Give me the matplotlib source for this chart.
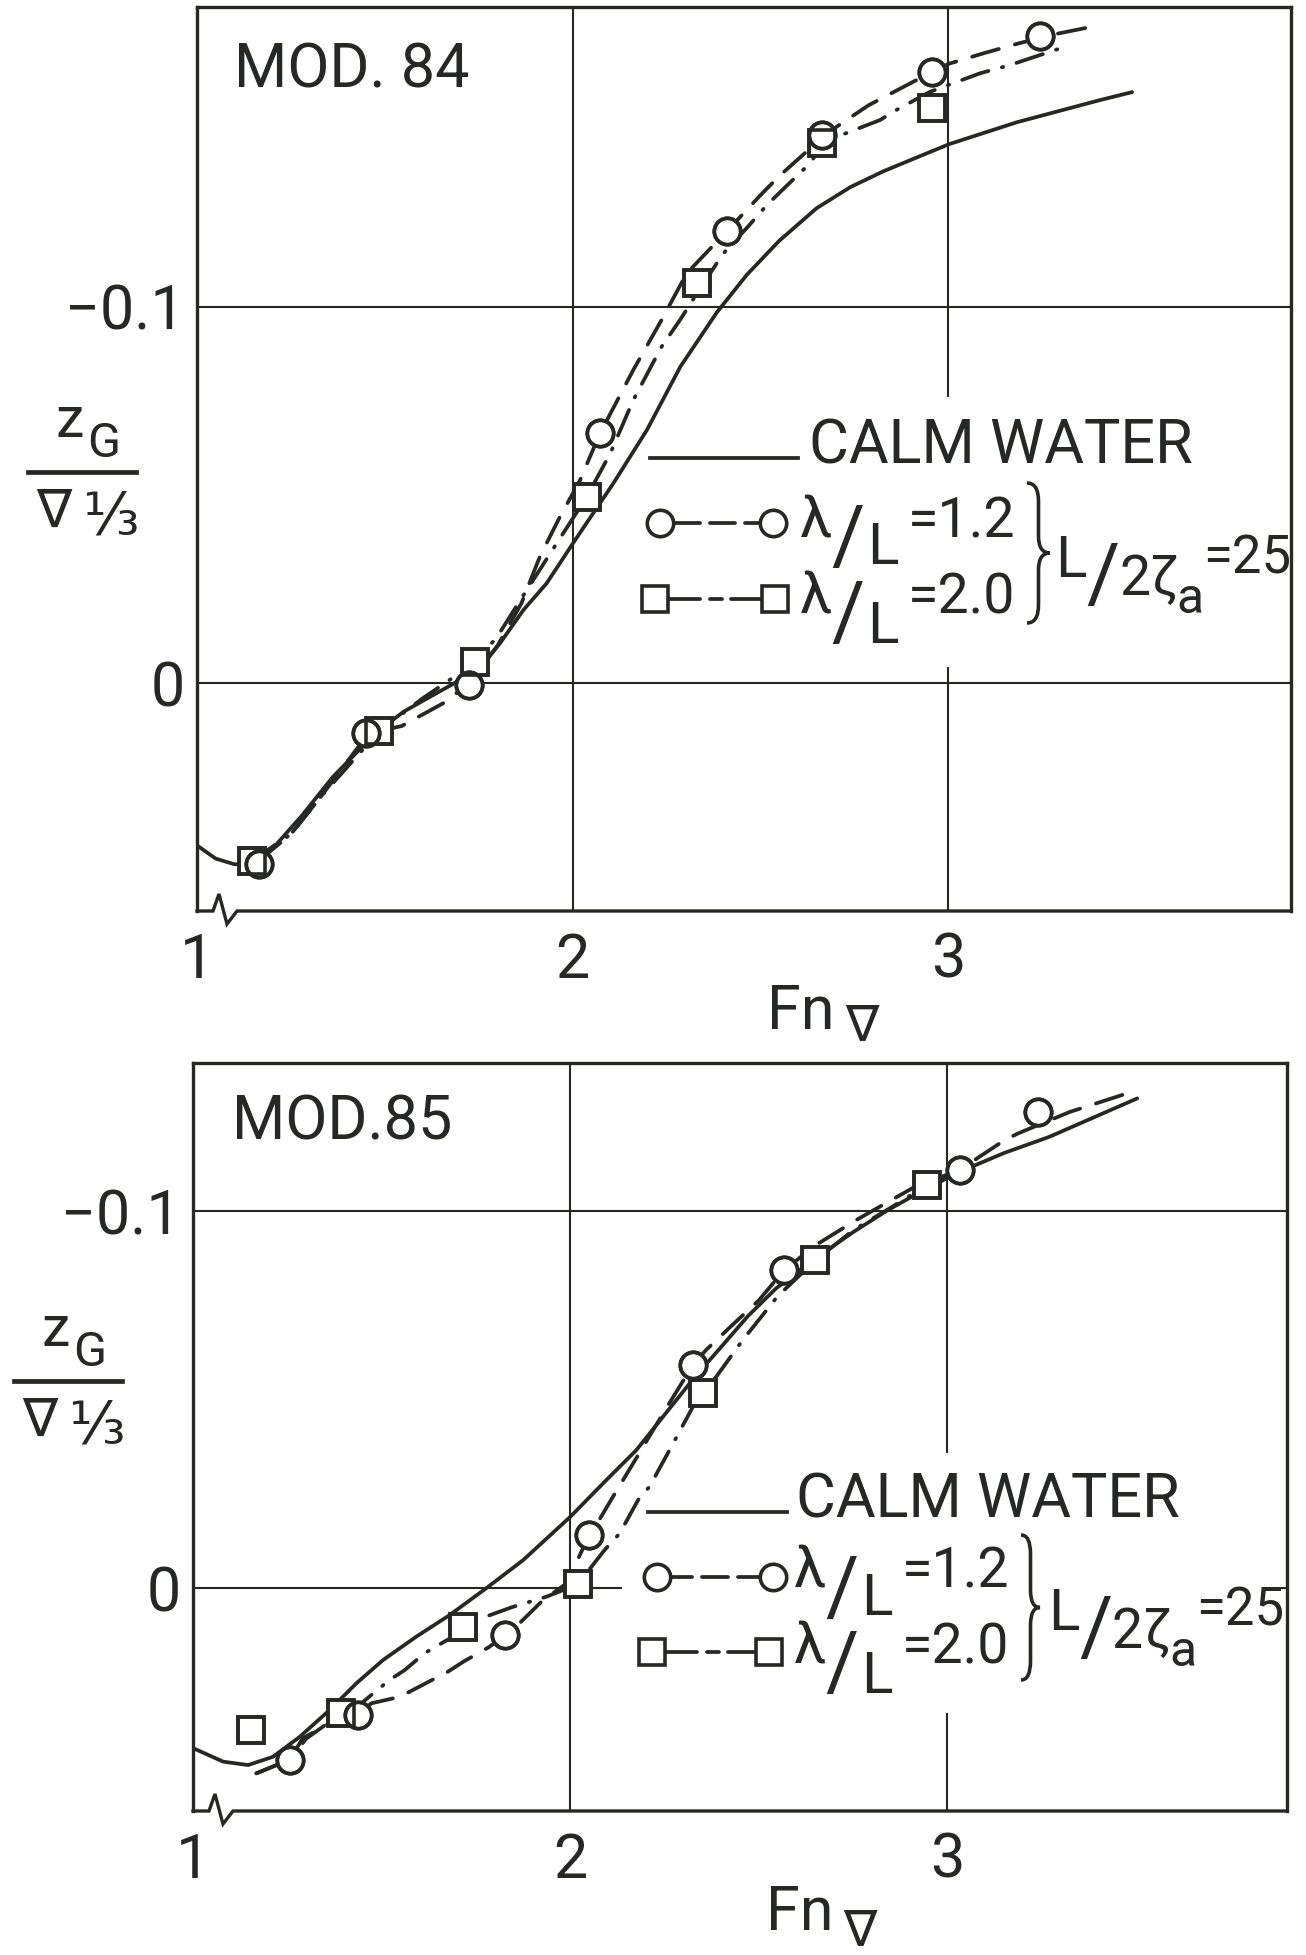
import matplotlib
matplotlib.use("Agg")
import matplotlib.pyplot as plt
from matplotlib.lines import Line2D
from matplotlib.patches import Rectangle, PathPatch
from matplotlib.path import Path

plt.rcParams['lines.scale_dashes'] = False

# ---------------- data ----------------
# MOD. 84 (upper panel)
m84_calm_x = [1.00, 1.05, 1.10, 1.146, 1.20, 1.28, 1.36, 1.475, 1.55, 1.63, 1.72, 1.771,
              1.807, 1.869, 1.931, 2.007, 2.109, 2.198, 2.287, 2.384, 2.464, 2.55, 2.65,
              2.74, 2.828, 2.92, 3.003, 3.183, 3.405, 3.49]
m84_calm_y = [0.043, 0.0465, 0.048, 0.0478, 0.044, 0.035, 0.025, 0.0132, 0.0075, 0.003,
              -0.002, -0.0063, -0.0107, -0.0195, -0.0266, -0.0381, -0.0532, -0.0673, -0.0841,
              -0.0985, -0.1085, -0.1175, -0.1262, -0.1318, -0.136, -0.1398, -0.1432, -0.149,
              -0.1549, -0.157]

m84_c12_x = [1.165, 1.25, 1.33, 1.457, 1.545, 1.66, 1.723, 1.80, 1.864, 1.913, 1.962, 2.02,
             2.073, 2.162, 2.237, 2.304, 2.41, 2.499, 2.548, 2.623, 2.663, 2.703, 2.788, 2.908,
             3.001, 3.094, 3.19, 3.29, 3.405]
m84_c12_y = [0.047, 0.040, 0.030, 0.0132, 0.0113, 0.005, 0.0, -0.010, -0.0213, -0.0337,
             -0.0434, -0.054, -0.0664, -0.0833, -0.0965, -0.1089, -0.120, -0.1295, -0.1345,
             -0.1412, -0.1445, -0.1478, -0.1535, -0.1598, -0.1645, -0.1673, -0.170, -0.1725,
             -0.1748]
m84_p12_x = [1.165, 1.45, 1.724, 2.073, 2.41, 2.663, 2.957, 3.245]
m84_p12_y = [0.0478, 0.0132, 0.0005, -0.0664, -0.120, -0.1456, -0.1624, -0.172]

m84_c20_x = [1.147, 1.25, 1.33, 1.485, 1.60, 1.741, 1.80, 1.86, 1.95, 2.038, 2.10, 2.162,
             2.237, 2.286, 2.331, 2.40, 2.469, 2.517, 2.632, 2.663, 2.70, 2.819, 2.863, 2.952,
             3.085, 3.165, 3.325]
m84_c20_y = [0.047, 0.040, 0.030, 0.0127, 0.004, -0.0056, -0.0125, -0.022, -0.036, -0.0496,
             -0.061, -0.0753, -0.0894, -0.0965, -0.1035, -0.114, -0.1215, -0.127, -0.1381,
             -0.1425, -0.1450, -0.1496, -0.1523, -0.1571, -0.162, -0.1642, -0.1695]
m84_p20_x = [1.147, 1.485, 1.741, 2.038, 2.331, 2.663, 2.957]
m84_p20_y = [0.047, 0.0127, -0.0056, -0.0496, -0.1063, -0.1434, -0.1527]

# MOD. 85 (lower panel)
m85_calm_x = [1.0, 1.08, 1.146, 1.212, 1.283, 1.362, 1.433, 1.504, 1.592, 1.68, 1.778, 1.875,
              2.0, 2.096, 2.175, 2.25, 2.33, 2.40, 2.471, 2.545, 2.65, 2.75, 2.841, 2.94,
              3.032, 3.15, 3.27, 3.503]
m85_calm_y = [0.0425, 0.0461, 0.047, 0.0448, 0.0395, 0.0324, 0.0253, 0.0191, 0.0129, 0.0072,
              0.0, -0.0074, -0.0189, -0.0287, -0.0366, -0.046, -0.056, -0.064, -0.0722, -0.0795,
              -0.0875, -0.0945, -0.1003, -0.1058, -0.1105, -0.1155, -0.1198, -0.130]

m85_c12_x = [1.168, 1.256, 1.291, 1.36, 1.437, 1.473, 1.548, 1.592, 1.676, 1.716, 1.786, 1.826,
             1.861, 1.928, 1.99, 2.05, 2.074, 2.113, 2.18, 2.25, 2.325, 2.36, 2.424, 2.50,
             2.567, 2.65, 2.758, 2.913, 3.032, 3.151, 3.187, 3.324, 3.503]
m85_c12_y = [0.0492, 0.0456, 0.0399, 0.036, 0.0337, 0.0306, 0.0289, 0.0266, 0.0222, 0.0196,
             0.0156, 0.0125, 0.0098, 0.0032, -0.0012, -0.014, -0.0176, -0.0242, -0.0353, -0.047,
             -0.0592, -0.0632, -0.0693, -0.0764, -0.0844, -0.091, -0.0977, -0.1065, -0.111,
             -0.1189, -0.1207, -0.1264, -0.1322]
m85_p12_x = [1.256, 1.437, 1.826, 2.05, 2.325, 2.567, 3.032, 3.241]
m85_p12_y = [0.0456, 0.0337, 0.0125, -0.014, -0.0592, -0.0844, -0.111, -0.1264]

m85_c20_x = [1.168, 1.256, 1.30, 1.393, 1.451, 1.521, 1.561, 1.614, 1.689, 1.716, 1.751, 1.848,
             1.937, 2.02, 2.091, 2.131, 2.18, 2.21, 2.263, 2.325, 2.352, 2.387, 2.457, 2.55,
             2.65, 2.75, 2.85, 2.946, 3.03]
m85_c20_y = [0.0492, 0.0456, 0.040, 0.0333, 0.0302, 0.0244, 0.0218, 0.0173, 0.0129, 0.0103,
             0.0085, 0.005, 0.0023, -0.001, -0.0101, -0.0145, -0.0234, -0.0269, -0.0366,
             -0.0481, -0.0517, -0.0561, -0.0658, -0.0775, -0.087, -0.095, -0.101, -0.107, -0.111]
m85_p20_x = [1.155, 1.393, 1.716, 2.02, 2.352, 2.65, 2.946]
m85_p20_y = [0.0377, 0.0333, 0.0103, -0.001, -0.0517, -0.087, -0.107]

xticks = [1, 2, 3]
xticklabels = ['1', '2', '3']
yticks = [-0.1, 0.0]
yticklabels = ['\u22120.1', '0']
panel_titles = ['MOD. 84', 'MOD.85']
legend_calm = 'CALM WATER'
legend_l12 = '=1.2'
legend_l20 = '=2.0'
legend_amp = '=25'

# ---------------- style ----------------
W, H = 1306, 1955
INK = '#262824'
FAM = ['Roboto', 'DejaVu Sans']
FS = 44
LW = 2.7
MS = 19
MEW = 2.6
DASH_C = (20, 12)
DASH_S = (20, 10, 1, 10)

fig = plt.figure(figsize=(W / 100, H / 100), dpi=100)
fig.patch.set_facecolor('white')


def fx(x):
    return x / W


def fy(y):
    return 1 - y / H


def T(x, y, s, size=FS, ha='left', va='baseline'):
    fig.text(fx(x), fy(y), s, fontsize=size, ha=ha, va=va, color=INK, family=FAM)


def fline(xs, ys, **kw):
    kw.setdefault('color', INK)
    kw.setdefault('lw', LW)
    fig.add_artist(Line2D([fx(v) for v in xs], [fy(v) for v in ys],
                          transform=fig.transFigure, **kw))


def fmark(x, y, m):
    fig.add_artist(Line2D([fx(x)], [fy(y)], transform=fig.transFigure, marker=m,
                          ms=MS, mfc='white', mec=INK, mew=MEW, ls='none', zorder=5))


def brace(x0, x1, yt, yb):
    xm = (x0 + x1) / 2
    ym = (yt + yb) / 2
    h = yb - yt
    pts = [(x0, yt), (xm, yt), (xm, yt + 0.13 * h), (xm, ym - 0.12 * h), (xm, ym), (x1, ym),
           (xm, ym), (xm, ym + 0.12 * h), (xm, yb - 0.13 * h), (xm, yb), (x0, yb)]
    codes = [Path.MOVETO, Path.CURVE3, Path.CURVE3, Path.LINETO, Path.CURVE3, Path.CURVE3,
             Path.CURVE3, Path.CURVE3, Path.LINETO, Path.CURVE3, Path.CURVE3]
    p = Path([(fx(a), fy(b)) for a, b in pts], codes)
    fig.add_artist(PathPatch(p, fill=False, edgecolor=INK, lw=2.6,
                             transform=fig.transFigure))


def make_axes(l, r, t, b, xmax, ybot, ytop):
    ax = fig.add_axes([fx(l), fy(b), (r - l) / W, (b - t) / H])
    ax.set_xlim(1, xmax)
    ax.set_ylim(ybot, ytop)
    ax.set_xticks(xticks)
    ax.set_xticklabels(xticklabels)
    ax.set_yticks(yticks)
    ax.set_yticklabels(yticklabels)
    for lab in ax.get_xticklabels() + ax.get_yticklabels():
        lab.set_fontsize(FS)
        lab.set_family(FAM)
        lab.set_color(INK)
    ax.tick_params(axis='both', length=0)
    ax.tick_params(axis='x', pad=15)
    ax.tick_params(axis='y', pad=9)
    ax.set_axisbelow(True)
    ax.grid(True, color=INK, lw=1.5)
    for s in ['left', 'top', 'right']:
        ax.spines[s].set_linewidth(2.4)
        ax.spines[s].set_color(INK)
    ax.spines['bottom'].set_visible(False)
    # axis break on the bottom edge
    fline([l, l + 16, l + 22, l + 30, l + 40, r], [b, b, b - 17, b + 13, b, b], lw=2.4,
          solid_joinstyle='miter')
    return ax


def draw_series(ax, cx, cy, c12x, c12y, p12x, p12y, c20x, c20y, p20x, p20y):
    ax.plot(cx, cy, color=INK, lw=LW, solid_capstyle='round', solid_joinstyle='round',
            zorder=3)
    ax.plot(c12x, c12y, color=INK, lw=LW, dashes=DASH_C, dash_capstyle='round', zorder=3)
    ax.plot(c20x, c20y, color=INK, lw=LW, dashes=DASH_S, dash_capstyle='round', zorder=3)
    ax.plot(p20x, p20y, 's', ms=MS, mfc='white', mec=INK, mew=MEW, ls='none', zorder=4)
    ax.plot(p12x, p12y, 'o', ms=MS, mfc='white', mec=INK, mew=MEW, ls='none', zorder=4)
    ax.plot(p20x, p20y, 's', ms=MS, mfc='none', mec=INK, mew=MEW, ls='none', zorder=5)
    ax.plot(p12x, p12y, 'o', ms=MS, mfc='none', mec=INK, mew=MEW, ls='none', zorder=5)


def lam_row(tx, tb, val, ldrop):
    T(tx, tb, '\u03bb', FS - 2)
    T(tx + 31, tb + 26, '/', FS + 14)
    T(tx + 67, tb + ldrop, 'L', FS - 2)
    T(tx + 108, tb, val, FS - 4)


def legend_block(ax, box, calm_line, calm_txt, row2, row3, br, amp):
    # white backing that interrupts the grid lines
    bx0, by0, bx1, by1 = box
    ax.add_patch(Rectangle((fx(bx0), fy(by1)), (bx1 - bx0) / W, (by1 - by0) / H,
                           transform=fig.transFigure, facecolor='white', edgecolor='none',
                           zorder=1))
    # calm water
    fline([calm_line[0], calm_line[1]], [calm_line[2], calm_line[2]], lw=2.7)
    T(calm_txt[0], calm_txt[1], legend_calm)
    # lambda/L = 1.2 row
    (m1, m2, my, segs, tx, tb, val) = row2
    for a, b_ in segs:
        fline([a, b_], [my, my], lw=2.7, solid_capstyle='round')
    fmark(m1, my, 'o')
    fmark(m2, my, 'o')
    lam_row(tx, tb, val, 27)
    # lambda/L = 2.0 row
    (m1, m2, my, segs, tx, tb, val) = row3
    for a, b_ in segs:
        fline([a, b_], [my, my], lw=2.7, solid_capstyle='round')
    fmark(m1, my, 's')
    fmark(m2, my, 's')
    lam_row(tx, tb, val, 30)
    # brace and wave amplitude
    brace(*br)
    ax0, ab = amp
    T(ax0, ab, 'L', FS - 2)
    T(ax0 + 31, ab + 24, '/', FS + 14)
    T(ax0 + 64, ab + 18, '2', FS - 4)
    T(ax0 + 95, ab + 18, '\u03b6', FS - 4)
    T(ax0 + 121, ab + 36, 'a', FS - 8)
    T(ax0 + 148, ab - 4, legend_amp, FS - 6)


def y_label(x0, zb):
    # x0: left of the nabla, zb: baseline of z
    T(x0 + 20, zb, 'z', FS - 3)
    T(x0 + 51, zb + 20, 'G', FS - 9)
    fline([x0 - 8, x0 + 100], [zb + 35, zb + 35], lw=3.4)
    T(x0, zb + 90, '\u2207', FS - 6)
    T(x0 + 46, zb + 97, '\u2153', FS - 2)


# ---------------- upper panel ----------------
ax1 = make_axes(197, 1291, 7, 911, 3.913, 0.0604, -0.1796)
draw_series(ax1, m84_calm_x, m84_calm_y, m84_c12_x, m84_c12_y, m84_p12_x, m84_p12_y,
            m84_c20_x, m84_c20_y, m84_p20_x, m84_p20_y)
T(234, 87, panel_titles[0])
legend_block(ax1, (640, 397, 1289, 667), (650, 798, 458), (809, 463),
             (660, 773, 523, [(673, 700), (710, 735), (745, 762)], 800, 537, legend_l12),
             (655, 775, 599, [(668, 700), (710, 722), (731, 762)], 800, 613, legend_l20),
             (1027, 1050, 483, 623), (1055, 577))
y_label(36, 437)
T(767, 1029, 'Fn', FS)
T(845, 1040, '\u2207', FS - 8)

# ---------------- lower panel ----------------
ax2 = make_axes(193, 1287, 1063, 1811, 3.90, 0.0592, -0.1394)
draw_series(ax2, m85_calm_x, m85_calm_y, m85_c12_x, m85_c12_y, m85_p12_x, m85_p12_y,
            m85_c20_x, m85_c20_y, m85_p20_x, m85_p20_y)
T(232, 1140, panel_titles[1])
legend_block(ax2, (622, 1453, 1280, 1713), (648, 787, 1512), (796, 1518),
             (657, 773, 1577, [(670, 692), (702, 728), (738, 760)], 794, 1588, legend_l12),
             (652, 769, 1652, [(665, 697), (707, 719), (728, 756)], 794, 1663, legend_l20),
             (1021, 1040, 1535, 1680), (1048, 1630))
y_label(22, 1346)
T(766, 1930, 'Fn', FS)
T(843, 1945, '\u2207', FS - 8)

fig.savefig('out.png', dpi=100, facecolor='white')
